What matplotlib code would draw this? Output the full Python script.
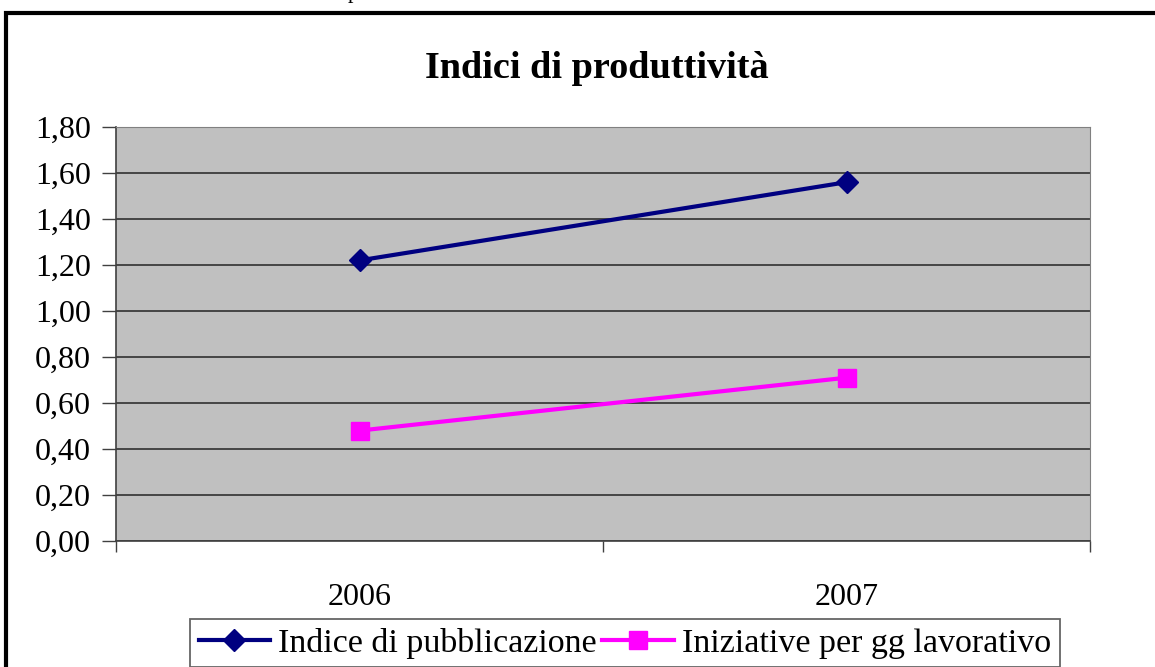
import matplotlib
matplotlib.use('Agg')
import matplotlib.pyplot as plt
from matplotlib.patches import Rectangle
from matplotlib.ticker import FuncFormatter

# dati
anni = ['2006', '2007']
indice_pubblicazione = [1.22, 1.56]
iniziative_gg = [0.48, 0.71]
yticks = [0.0, 0.2, 0.4, 0.6, 0.8, 1.0, 1.2, 1.4, 1.6, 1.8]

plt.rcParams['font.family'] = ['Liberation Serif', 'DejaVu Serif']

W, H = 1155, 667
fig = plt.figure(figsize=(W/100, H/100), dpi=100)
ax = fig.add_axes([116/W, 1-541/H, 974/W, 414/H])
ax.set_facecolor('#c0c0c0')

x = [0.5, 1.5]
ax.plot(x, indice_pubblicazione, color='#000080', lw=3, marker='D', ms=11,
        label='Indice di pubblicazione', clip_on=False, zorder=3)
ax.plot(x, iniziative_gg, color='#ff00ff', lw=3, marker='s', ms=13,
        label='Iniziative per gg lavorativo', clip_on=False, zorder=3)

ax.set_xlim(0, 2)
ax.set_ylim(0, 1.8)
ax.set_yticks(yticks)
ax.yaxis.set_major_formatter(FuncFormatter(lambda v, p: ('%.2f' % v).replace('.', ',')))
ax.set_xticks([0, 1, 2])
ax.set_xticklabels([])
ax.set_xticks(x, minor=True)
ax.set_xticklabels(anni, minor=True)
ax.tick_params(axis='x', which='minor', length=0, pad=30, labelsize=23)
ax.tick_params(axis='x', which='major', length=8, width=1, color='#404040')
ax.tick_params(axis='y', length=10, width=1, color='#404040', labelsize=23, pad=8)
ax.grid(axis='y', color='#303030', lw=1.2)
ax.set_axisbelow(True)
for s in ['top', 'right']:
    ax.spines[s].set_color('#808080')
for s in ['left', 'bottom']:
    ax.spines[s].set_color('#404040')
    ax.spines[s].set_linewidth(1.2)

fig.text(597/W, 1-78/H, 'Indici di produttività', ha='center', va='baseline',
         fontsize=27.5, fontweight='bold')

leg = fig.legend(loc='upper left', bbox_to_anchor=(190/W, 1-619/H), ncol=2,
                 fontsize=24.5, frameon=True, fancybox=False, edgecolor='#404040',
                 handlelength=2.1, handletextpad=0.25, columnspacing=0.15,
                 borderaxespad=0, borderpad=0.25)
leg.get_frame().set_linewidth(1.3)

# cornice del grafico
fig.patches.append(Rectangle((6/W, -0.05), 1.1, 1-13/H+0.05, transform=fig.transFigure,
                             fill=False, edgecolor='black', lw=3))
fig.text(348/W, 1+2/H, 'p', ha='left', va='baseline', fontsize=16)

fig.savefig('out.png', dpi=100)
